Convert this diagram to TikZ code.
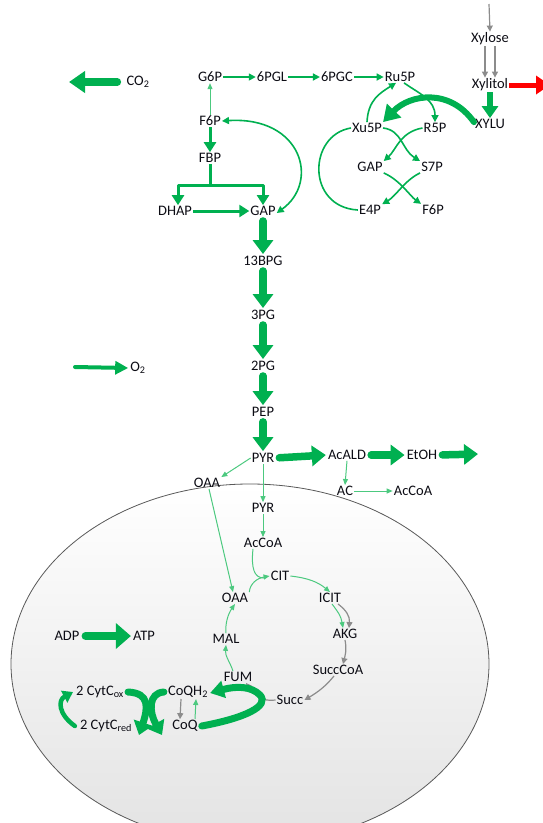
\documentclass[tikz,border=0pt]{standalone}
\usepackage{fontspec}
\setmainfont{Carlito}
\usetikzlibrary{arrows.meta}
\definecolor{grn}{HTML}{00B050}
\definecolor{grnL}{HTML}{4CC97F}
\definecolor{gry}{HTML}{8C8C8C}
\definecolor{redA}{HTML}{FF0000}
\definecolor{txt}{HTML}{0C0C14}
\begin{document}
\begin{tikzpicture}[x=1pt,y=-1pt,
  lbl/.style={inner sep=1pt, text=txt, font=\fontsize{14.5}{16}\selectfont},
  fine/.style={draw=grnL, line width=1pt, -{Triangle[length=6pt,width=5pt]}},
  mid/.style={draw=grn, line width=1.6pt, -{Triangle[length=7pt,width=7pt]}},
  med/.style={draw=grn, line width=3pt, -{Triangle[length=10pt,width=12pt]}},
  heavy/.style={draw=grn, line width=7.5pt, line cap=round, shorten <=4pt, shorten >=1pt,
    -{Triangle[length=14pt,width=20pt]}},
  grey/.style={draw=gry, line width=1.2pt, -{Triangle[length=6pt,width=6pt]}},
]
\useasboundingbox (0,0) rectangle (543,823);

% mitochondrion
\begin{scope}
  \clip (0,0) rectangle (543,823);
  \shade[top color=white, bottom color=black!11, draw=black!65, line width=0.8pt]
    (250,664) ellipse [x radius=239, y radius=180];
\end{scope}

% ---- nodes ----
\node[lbl] (co2) at (138,82) {CO\textsubscript{2}};
\node[lbl] (o2) at (138,368) {O\textsubscript{2}};
\node[lbl] (g6p) at (210,77) {G6P};
\node[lbl] (pgl) at (272,77) {6PGL};
\node[lbl] (pgc) at (337,77) {6PGC};
\node[lbl] (ru5p) at (400,77) {Ru5P};
\node[lbl] (f6p) at (210,121) {F6P};
\node[lbl] (fbp) at (210,158) {FBP};
\node[lbl] (dhap) at (175,211) {DHAP};
\node[lbl] (gap) at (263,211) {GAP};
\node[lbl] (bpg) at (263,261) {13BPG};
\node[lbl] (pg3) at (263,315) {3PG};
\node[lbl] (pg2) at (263,366) {2PG};
\node[lbl] (pep) at (263,412) {PEP};
\node[lbl] (pyr) at (263,458) {PYR};
\node[lbl] (xu5p) at (367,128) {Xu5P};
\node[lbl] (r5p) at (435,128) {R5P};
\node[lbl] (gap2) at (370,167) {GAP};
\node[lbl] (s7p) at (432,167) {S7P};
\node[lbl] (e4p) at (370,210) {E4P};
\node[lbl] (f6p2) at (433,210) {F6P};
\node[lbl] (xylose) at (490,39) {Xylose};
\node[lbl] (xylitol) at (490,85) {Xylitol};
\node[lbl] (xylu) at (490,124) {XYLU};
\node[lbl] (acald) at (347,455) {AcALD};
\node[lbl] (etoh) at (422,455) {EtOH};
\node[lbl] (ac) at (345,491) {AC};
\node[lbl] (accoaA) at (413,491) {AcCoA};
\node[lbl] (oaaA) at (207,483) {OAA};
\node[lbl] (pyrB) at (263,508) {PYR};
\node[lbl] (accoaB) at (263,543) {AcCoA};
\node[lbl] (cit) at (280,576) {CIT};
\node[lbl] (icit) at (330,598) {ICIT};
\node[lbl] (akg) at (345,634) {AKG};
\node[lbl] (succoa) at (338,670) {SuccCoA};
\node[lbl] (succ) at (290,700) {Succ};
\node[lbl] (fum) at (238,677) {FUM};
\node[lbl] (mal) at (226,639) {MAL};
\node[lbl] (oaaB) at (235,598) {OAA};
\node[lbl] (coqh2) at (188,692) {CoQH\textsubscript{2}};
\node[lbl] (coq) at (185,726) {CoQ};
\node[lbl] (cox) at (100,692) {2 CytC\textsubscript{ox}};
\node[lbl] (cred) at (106,726) {2 CytC\textsubscript{red}};
\node[lbl] (adp) at (67,636) {ADP};
\node[lbl] (atp) at (144,636) {ATP};

% free ends
\coordinate (co2out) at (68,82);
\coordinate (o2in) at (75,367);
\coordinate (xin) at (489,4);
\coordinate (redout) at (550,85);
\coordinate (etohout) at (479,454);
\coordinate (split) at (210,185);

% ---- exchange arrows ----
\draw[heavy, shorten <=0pt, -{Triangle[length=16pt,width=21pt]}] ([xshift=-8pt]co2.west) -- (co2out);
\draw[draw=grn, line width=4pt, line cap=round, -{Triangle[length=13pt,width=13pt]}] (o2in) -- ([xshift=-1pt]o2.west);

% ---- oxidative pentose phosphate ----
\draw[mid] (g6p.east) -- (pgl.west);
\draw[mid] (pgl.east) -- (pgc.west);
\draw[mid] (pgc.east) -- (ru5p.west);
\draw[fine] (f6p.north) -- (g6p.south);

% ---- upper glycolysis ----
\draw[med] (f6p.south) -- (fbp.north);
\draw[med, line join=round] (fbp.south) -- (split) -| ([xshift=3pt]dhap.north);
\draw[med, line join=round] (split) -| (gap.north);
\draw[med] (dhap.east) -- (gap.west);
\draw[mid, {Triangle[length=7pt,width=7pt]}-{Triangle[length=7pt,width=7pt]}]
  (f6p.east) .. controls (302,116) and (320,182) .. ([yshift=-2pt]gap.east);

% ---- non-oxidative pentose phosphate ----
\draw[draw=grn, line width=1.6pt] (xu5p.west) .. controls (308,135) and (306,207) .. (e4p.west);
\draw[mid] (xu5p.north) .. controls (368,100) and (380,93) .. ([xshift=-4pt]ru5p.south);
\draw[mid] ([xshift=4pt]ru5p.south) .. controls (420,94) and (435,100) .. (r5p.north);
\draw[draw=grn, line width=6pt, line cap=round, -{Triangle[length=16pt,width=19pt]}]
  ([yshift=-4pt]xylu.north west) .. controls (450,88) and (410,94) .. (xu5p.north east);
\draw[mid] (xu5p.east) .. controls (402,130) and (402,150) .. (s7p.north west);
\draw[mid] (r5p.west) .. controls (400,132) and (396,150) .. (gap2.north east);
\draw[mid] (gap2.south east) .. controls (400,180) and (410,196) .. (f6p2.north west);
\draw[mid] (s7p.south west) .. controls (405,180) and (396,196) .. (e4p.north east);

% ---- xylose branch ----
\draw[grey] (xin) -- (xylose.north);
\draw[grey] ([xshift=-5pt]xylose.south) -- ([xshift=-5pt]xylitol.north);
\draw[grey] ([xshift=5pt]xylose.south) -- ([xshift=5pt]xylitol.north);
\draw[draw=redA, line width=5pt, -{Triangle[length=14pt,width=18pt]}] (xylitol.east) -- (redout);
\draw[draw=grn, line width=6pt, -{Triangle[length=12pt,width=16pt]}] (xylitol.south) -- (xylu.north);

% ---- lower glycolysis ----
\draw[heavy] (gap.south) -- (bpg.north);
\draw[heavy] (bpg.south) -- (pg3.north);
\draw[heavy] (pg3.south) -- (pg2.north);
\draw[heavy] (pg2.south) -- (pep.north);
\draw[heavy] (pep.south) -- (pyr.north);

% ---- fermentation ----
\draw[heavy] (pyr.east) -- (acald.west);
\draw[heavy] (acald.east) -- (etoh.west);
\draw[heavy] (etoh.east) -- (etohout);
\draw[fine] (acald.south) -- (ac.north);
\draw[fine] (ac.east) -- (accoaA.west);

% ---- pyruvate fate ----
\draw[fine] (pyr.west) -- (oaaA.north east);
\draw[fine] (pyr.south) -- (pyrB.north);
\draw[fine] (pyrB.south) -- (accoaB.north);
\draw[fine] ([xshift=2pt]oaaA.south) -- ([xshift=-2pt]oaaB.north);

% ---- TCA cycle ----
\draw[draw=grnL, line width=1pt] ([xshift=-10pt]accoaB.south) .. controls (251,568) and (254,578) .. (264,578);
\draw[fine] (oaaB.north east) .. controls (250,583) and (258,578) .. (cit.west);
\draw[fine] (cit.east) .. controls (308,578) and (318,582) .. (icit.north);
\draw[fine] ([xshift=2pt]icit.south) .. controls (338,612) and (341,616) .. ([xshift=-2pt]akg.north);
\draw[grey] ([xshift=8pt]icit.south) .. controls (346,610) and (350,616) .. ([xshift=4pt]akg.north);
\draw[grey] (akg.south) .. controls (347,650) and (345,656) .. ([xshift=5pt]succoa.north);
\draw[grey] ([xshift=-4pt]succoa.south) .. controls (326,686) and (318,692) .. (succ.east);
\draw[grey] (succ.west) .. controls (262,702) and (255,695) .. ([xshift=8pt]fum.south);
\draw[fine] ([xshift=-5pt]fum.north) .. controls (230,662) and (225,656) .. (mal.south);
\draw[fine] (mal.north) .. controls (225,624) and (228,614) .. (oaaB.south);

% ---- electron transport ----
\draw[grey] ([xshift=-7pt]coqh2.south) -- ([xshift=-5pt]coq.north);
\draw[fine] ([xshift=10pt]coq.north) -- ([xshift=8pt]coqh2.south);
\draw[draw=grn, line width=7pt, line cap=round, -{Triangle[length=14pt,width=17pt]}]
  ([xshift=3pt]coq.east) .. controls (245,718) and (270,706) .. (260,695)
  .. controls (251,686) and (236,686) .. ([xshift=1pt,yshift=-1pt]coqh2.east);
\draw[draw=grn, line width=7pt, line cap=round, -{Triangle[length=13pt,width=19pt]}]
  ([xshift=3pt]cox.east) .. controls (150,693) and (148,708) .. (139,735);
\draw[draw=grn, line width=7pt, line cap=round, -{Triangle[length=13pt,width=19pt]}]
  ([xshift=-3pt]coqh2.west) .. controls (148,693) and (149,712) .. (162,735);
\draw[draw=grn, line width=4.5pt, line cap=round, -{Triangle[length=10pt,width=13pt]}]
  ([xshift=-4pt]cred.west) .. controls (58,714) and (58,700) .. ([xshift=-2pt]cox.west);

% ---- energy ----
\draw[draw=grn, line width=8pt, line cap=round, -{Triangle[length=15pt,width=25pt]}]
  ([xshift=5pt]adp.east) -- ([xshift=-1pt]atp.west);
\end{tikzpicture}
\end{document}
